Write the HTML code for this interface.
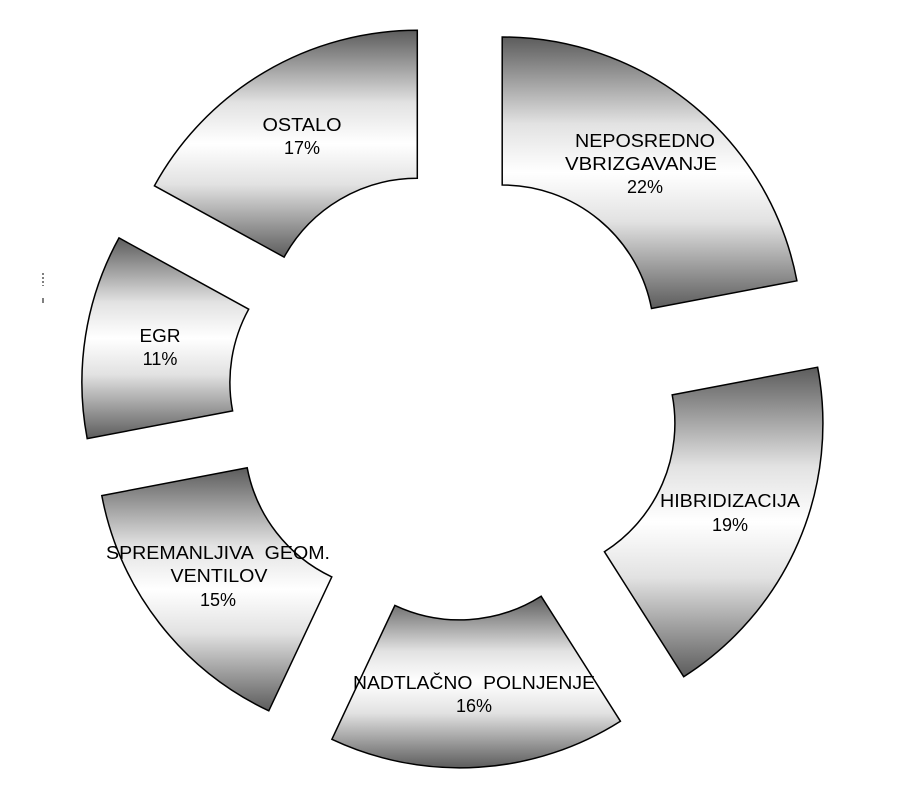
<!DOCTYPE html>
<html><head><meta charset="utf-8"><style>
html,body{margin:0;padding:0;background:#fff;}
svg{display:block;}
text{font-family:"Liberation Sans",Arial,sans-serif;font-size:18px;fill:#000;text-anchor:middle;}
</style></head><body>
<svg id="s" width="916" height="789" viewBox="0 0 916 789" xmlns="http://www.w3.org/2000/svg">
<defs>
<linearGradient id="g" x1="0" y1="0" x2="0" y2="1">
<stop offset="0" stop-color="#5c5c5c"/>
<stop offset="0.32" stop-color="#e2e2e2"/>
<stop offset="0.5" stop-color="#ffffff"/>
<stop offset="0.68" stop-color="#e2e2e2"/>
<stop offset="1" stop-color="#5c5c5c"/>
</linearGradient>
</defs>
<g id="segs"></g>
<line x1="43" y1="273" x2="43" y2="286" stroke="#000" stroke-width="1" stroke-dasharray="2,2"/>
<line x1="43" y1="298" x2="43" y2="303" stroke="#000" stroke-width="1"/>
<text x="302" y="131" textLength="79" lengthAdjust="spacingAndGlyphs">OSTALO</text>
<text x="302" y="154">17%</text>
<text x="645" y="147" textLength="140" lengthAdjust="spacingAndGlyphs">NEPOSREDNO</text>
<text x="641" y="170" textLength="152" lengthAdjust="spacingAndGlyphs">VBRIZGAVANJE</text>
<text x="645" y="193">22%</text>
<text x="730" y="507" textLength="140" lengthAdjust="spacingAndGlyphs">HIBRIDIZACIJA</text>
<text x="730" y="531">19%</text>
<text x="474" y="689" textLength="242" lengthAdjust="spacingAndGlyphs">NADTLAČNO&#160;&#160;POLNJENJE</text>
<text x="474" y="712">16%</text>
<text x="218" y="559" textLength="224" lengthAdjust="spacingAndGlyphs">SPREMANLJIVA&#160;&#160;GEOM.</text>
<text x="219" y="582" textLength="97" lengthAdjust="spacingAndGlyphs">VENTILOV</text>
<text x="218" y="606">15%</text>
<text x="160" y="342" textLength="41" lengthAdjust="spacingAndGlyphs">EGR</text>
<text x="160" y="365">11%</text>
</svg>
<script>
(function(){
var cx=455,cy=394,R=300,r=152,d=74;
var vals=[22,19,16,15,11,17];
var a=0,html="";
function pt(ang,rad,ox,oy){var t=ang*Math.PI/180;return [(cx+ox+rad*Math.sin(t)).toFixed(1),(cy+oy-rad*Math.cos(t)).toFixed(1)];}
vals.forEach(function(v){
 var a0=a,a1=a+v*3.6;a=a1;
 var m=(a0+a1)/2*Math.PI/180;
 var ox=d*Math.sin(m),oy=-d*Math.cos(m);
 var large=(a1-a0)>180?1:0;
 var p1=pt(a0,R,ox,oy),p2=pt(a1,R,ox,oy),p3=pt(a1,r,ox,oy),p4=pt(a0,r,ox,oy);
 html+='<path d="M'+p1+' A'+R+','+R+' 0 '+large+' 1 '+p2+' L'+p3+' A'+r+','+r+' 0 '+large+' 0 '+p4+' Z" fill="url(#g)" stroke="#000" stroke-width="1.5"/>';
});
document.getElementById('segs').innerHTML=html;
})();
</script>
</body></html>
